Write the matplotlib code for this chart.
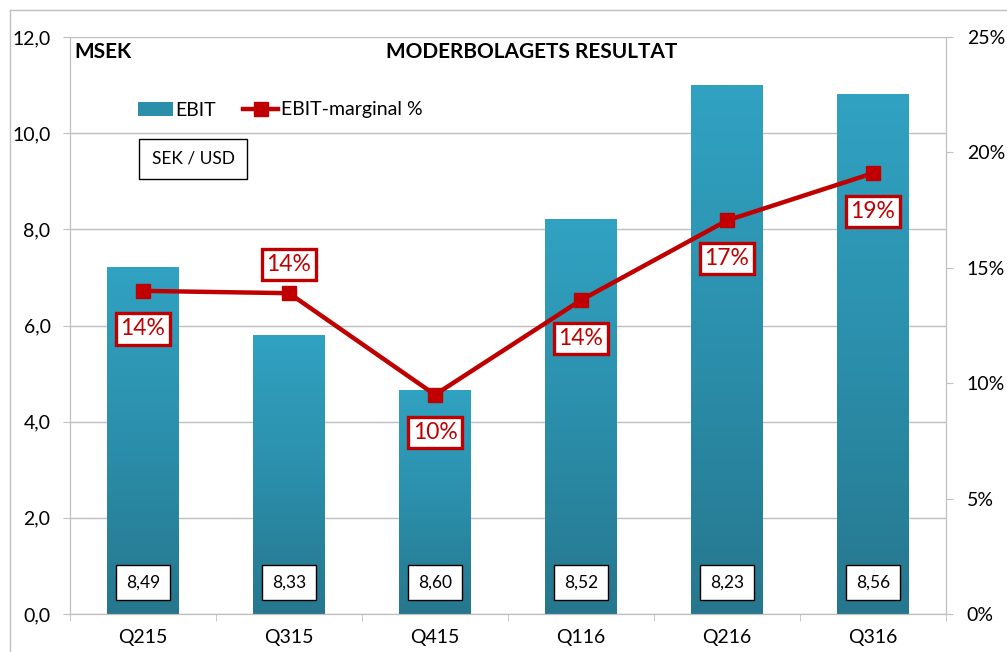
import numpy as np
import matplotlib.pyplot as plt
from matplotlib.colors import LinearSegmentedColormap
from matplotlib.patches import Patch
from matplotlib.lines import Line2D

plt.rcParams['font.family'] = ['Lato', 'DejaVu Sans']

quarters = ["Q215", "Q315", "Q415", "Q116", "Q216", "Q316"]
ebit = [7.2, 5.8, 4.65, 8.2, 11.0, 10.8]
margin = [14.0, 13.9, 9.5, 13.6, 17.05, 19.1]
margin_labels = ["14%", "14%", "10%", "14%", "17%", "19%"]
sek_usd = ["8,49", "8,33", "8,60", "8,52", "8,23", "8,56"]
label_above = [False, True, False, False, False, False]

red = "#c00000"
grid = "#bfbfbf"

fig = plt.figure(figsize=(10.07, 6.52), dpi=100)
ax = fig.add_axes([70/1007, 38/652, 876/1007, 577/652])
ax2 = ax.twinx()

x = np.arange(len(quarters))
w = 0.49
cmap = LinearSegmentedColormap.from_list("bar", ["#26778e", "#2b8fab", "#31a2c2"])
grad = np.linspace(0, 1, 256).reshape(-1, 1)
for xi, h in zip(x, ebit):
    ax.imshow(grad, cmap=cmap, origin="lower", aspect="auto",
              extent=[xi - w/2, xi + w/2, 0, h], zorder=2)

ax.set_xlim(-0.5, len(quarters) - 0.5)
ax.set_ylim(0, 12)
ax.set_yticks(np.arange(0, 12.1, 2))
ax.set_yticklabels([f"{v:.1f}".replace(".", ",") for v in np.arange(0, 12.1, 2)], fontsize=14)
ax.yaxis.grid(True, color=grid, lw=1)
ax.set_axisbelow(True)
ax.set_xticks(x)
ax.set_xticklabels(quarters, fontsize=14)
ax.set_xticks(np.arange(-0.5, len(quarters), 1), minor=True)
ax.tick_params(axis="x", which="major", length=0, pad=11)
ax.tick_params(axis="x", which="minor", length=5, color=grid)
ax.tick_params(axis="y", length=5, color=grid, pad=9)
for s in ["top"]:
    ax.spines[s].set_visible(False)
    ax2.spines[s].set_visible(False)
for s in ["left", "bottom", "right"]:
    ax.spines[s].set_color(grid)
    ax2.spines[s].set_color(grid)

for xi, t in zip(x, sek_usd):
    ax.text(xi, 0.65, t, ha="center", va="center", fontsize=12.5, zorder=5,
            bbox=dict(boxstyle="square,pad=0.55", fc="white", ec="black", lw=1))

ax2.plot(x, margin, color=red, lw=3.2, marker="s", ms=10, zorder=3)
ax2.set_ylim(0, 25)
ax2.set_yticks(np.arange(0, 26, 5))
ax2.set_yticklabels([f"{v}%" for v in range(0, 26, 5)], fontsize=14)
ax2.tick_params(axis="y", length=5, color=grid, pad=10)

for xi, m, lab, up in zip(x, margin, margin_labels, label_above):
    off = 1.25 if up else -1.65
    ax2.text(xi, m + off, lab, ha="center", va="center", fontsize=16.5, color=red, zorder=6,
             bbox=dict(boxstyle="square,pad=0.22", fc="white", ec=red, lw=2.4))

fig.text(74/1007, 1 - 52/652, "MSEK", fontsize=15, fontweight="bold", va="center")
fig.text(532/1007, 1 - 52/652, "MODERBOLAGETS RESULTAT", fontsize=15, fontweight="bold",
         ha="center", va="center")
fig.text(193/1007, 1 - 159/652, "SEK / USD", fontsize=12.5, ha="center", va="center",
         bbox=dict(boxstyle="square,pad=0.7", fc="white", ec="black", lw=1))

handles = [Patch(facecolor="#2b8fab"),
           Line2D([0], [0], color=red, lw=3.2, marker="s", ms=10)]
ax.legend(handles, ["EBIT", "EBIT-marginal %"], ncol=2, frameon=False, fontsize=14,
          loc="center left", bbox_to_anchor=(120/1007, 1 - 110/652),
          bbox_transform=fig.transFigure, handlelength=1.8, handletextpad=0.15,
          columnspacing=1.4)

fig.add_artist(Line2D([10/1007, 10/1007], [0, 1 - 10/652], color=grid, lw=1,
                      transform=fig.transFigure))
fig.add_artist(Line2D([10/1007, 1], [1 - 10/652, 1 - 10/652], color=grid, lw=1,
                      transform=fig.transFigure))

fig.savefig("out.png", dpi=100)
